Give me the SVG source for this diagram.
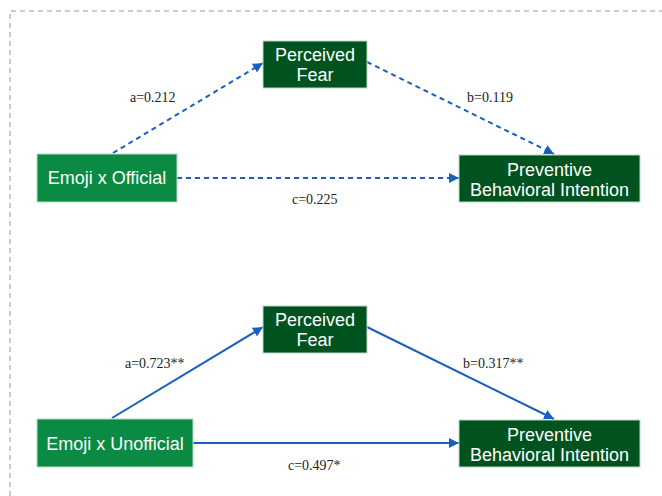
<svg xmlns="http://www.w3.org/2000/svg" width="662" height="496" viewBox="0 0 662 496">
  <style>
    .frame { fill: none; stroke: #9a9a9a; stroke-width: 1; stroke-dasharray: 5 4; }
    .box-dark { fill: #00531f; stroke: #b9d8c2; stroke-width: 1; }
    .box-light { fill: #0a8a42; stroke: #b9d8c2; stroke-width: 1; }
    .node-text { font-family: "Liberation Sans", Arial, sans-serif; font-size: 18px; fill: #ffffff; text-anchor: middle; }
    .coef { font-family: "Liberation Serif", "Times New Roman", serif; font-size: 14px; fill: #222222; }
    .path { fill: none; stroke: #1a5fbf; stroke-width: 2; }
    .dashed { stroke-dasharray: 5 4; }
  </style>
  <defs>
    <marker id="arrow" viewBox="0 0 10 10" refX="10" refY="5" markerWidth="10" markerHeight="10" markerUnits="userSpaceOnUse" orient="auto">
      <path d="M0,0 L10,5 L0,10 z" fill="#1a5fbf"/>
    </marker>
  </defs>

  <!-- outer dashed frame (top and left edges) -->
  <path class="frame" d="M10,496 L10,11 L662,11"/>

  <!-- connectors -->
  <g id="connectors">
    <line class="path dashed" x1="113" y1="153" x2="263" y2="63" marker-end="url(#arrow)"/>
    <line class="path dashed" x1="367" y1="62" x2="554" y2="154" marker-end="url(#arrow)"/>
    <line class="path dashed" x1="177" y1="178" x2="459" y2="178" marker-end="url(#arrow)"/>
    <line class="path" x1="112" y1="418" x2="263" y2="327" marker-end="url(#arrow)"/>
    <line class="path" x1="367" y1="327" x2="554" y2="419" marker-end="url(#arrow)"/>
    <line class="path" x1="193" y1="443" x2="459" y2="443" marker-end="url(#arrow)"/>
  </g>

  <!-- coefficient labels -->
  <g id="labels">
    <text class="coef" x="130" y="102">a=0.212</text>
    <text class="coef" x="467" y="102">b=0.119</text>
    <text class="coef" x="292" y="204">c=0.225</text>
    <text class="coef" x="125" y="368">a=0.723**</text>
    <text class="coef" x="463" y="368">b=0.317**</text>
    <text class="coef" x="288" y="470">c=0.497*</text>
  </g>

  <!-- upper model -->
  <g id="fear-top">
    <rect class="box-dark" x="263" y="41" width="104" height="47"/>
    <text class="node-text" x="315" y="61">Perceived</text>
    <text class="node-text" x="315" y="81">Fear</text>
  </g>
  <g id="emoji-official">
    <rect class="box-light" x="37" y="154" width="140" height="48"/>
    <text class="node-text" x="107" y="184">Emoji x Official</text>
  </g>
  <g id="intention-top">
    <rect class="box-dark" x="459" y="155" width="181" height="47"/>
    <text class="node-text" x="549.5" y="176">Preventive</text>
    <text class="node-text" x="549.5" y="196">Behavioral Intention</text>
  </g>

  <!-- lower model -->
  <g id="fear-bottom">
    <rect class="box-dark" x="263" y="306" width="104" height="47"/>
    <text class="node-text" x="315" y="326">Perceived</text>
    <text class="node-text" x="315" y="346">Fear</text>
  </g>
  <g id="emoji-unofficial">
    <rect class="box-light" x="37" y="419" width="156" height="48"/>
    <text class="node-text" x="115" y="450">Emoji x Unofficial</text>
  </g>
  <g id="intention-bottom">
    <rect class="box-dark" x="459" y="420" width="181" height="47"/>
    <text class="node-text" x="549.5" y="441">Preventive</text>
    <text class="node-text" x="549.5" y="461">Behavioral Intention</text>
  </g>
</svg>
